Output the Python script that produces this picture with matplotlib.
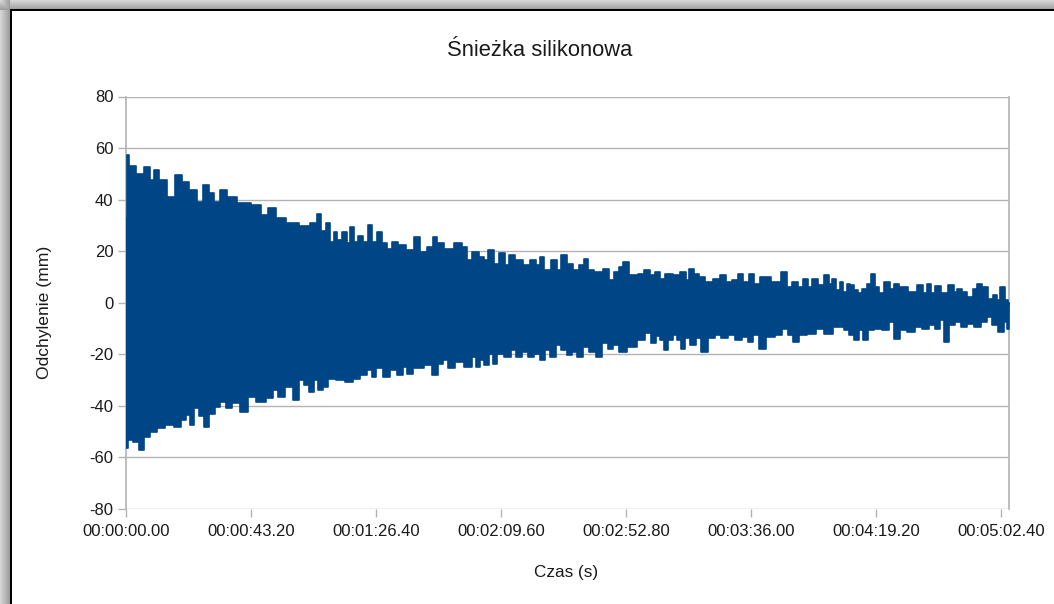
import numpy as np
import matplotlib
matplotlib.use("Agg")
import matplotlib.pyplot as plt
from matplotlib.patches import Rectangle
from matplotlib.ticker import FuncFormatter

plt.rcParams['font.family'] = ['Liberation Sans', 'DejaVu Sans']
plt.rcParams['axes.unicode_minus'] = False

# peak envelope of the swing, (time in s, deflection in mm)
upper_env = [
    (0.0, 32.7), (0.4, 57.5), (2.0, 53.0), (4.8, 50.0), (7.6, 52.6), (9.2, 47.5),
    (10.0, 51.3), (12.7, 47.7), (15.4, 41.0), (18.3, 49.4), (20.4, 46.8), (23.1, 43.6),
    (25.9, 39.0), (27.6, 45.5), (29.6, 42.4), (31.4, 39.0), (33.9, 43.6), (36.2, 41.0),
    (40.8, 38.5), (45.3, 38.0), (47.7, 34.0), (50.4, 36.6), (53.2, 33.0), (57.3, 30.8),
    (62.1, 29.6), (65.3, 30.9), (66.5, 34.6), (68.2, 28.0), (69.9, 31.0), (71.3, 23.6),
    (72.2, 27.4), (73.9, 24.2), (75.7, 27.4), (76.8, 23.0), (78.0, 29.4), (79.7, 23.6),
    (80.9, 26.0), (82.6, 23.6), (84.3, 30.3), (86.0, 23.6), (87.3, 27.4), (89.3, 23.0),
    (91.2, 21.0), (92.4, 23.6), (95.3, 22.3), (98.4, 20.3), (100.7, 25.5), (102.7, 19.7),
    (105.0, 21.6), (106.9, 25.5), (108.0, 23.0), (111.7, 21.0), (114.8, 23.0), (117.1, 21.6),
    (118.4, 16.5), (120.9, 19.7), (122.9, 17.7), (124.4, 16.5), (126.1, 20.3), (128.1, 15.2),
    (130.0, 19.4), (131.8, 14.5), (133.0, 18.4), (135.6, 16.5), (138.7, 14.5), (140.5, 16.5),
    (142.5, 14.5), (143.7, 17.7), (145.4, 12.6), (148.4, 16.5), (149.7, 12.6), (151.1, 18.4),
    (153.4, 15.2), (155.7, 12.6), (157.5, 14.5), (159.0, 17.1), (160.3, 12.6), (163.2, 11.9),
    (166.1, 13.2), (167.8, 8.7), (169.5, 11.9), (170.9, 13.8), (172.4, 15.8), (175.3, 10.6),
    (178.2, 11.3), (179.9, 12.6), (182.0, 10.6), (183.8, 11.9), (185.1, 9.4), (187.4, 11.3),
    (190.3, 10.6), (192.6, 11.9), (194.1, 8.7), (195.3, 13.2), (197.0, 11.3), (198.8, 10.0),
    (201.6, 8.1), (204.2, 9.4), (206.4, 10.6), (208.5, 8.1), (210.4, 8.7), (212.4, 11.3),
    (214.2, 8.1), (216.0, 11.3), (217.7, 7.4), (220.7, 10.0), (224.8, 8.1), (227.5, 11.9),
    (229.2, 6.1), (231.2, 8.1), (232.9, 6.1), (234.6, 9.4), (236.4, 6.1), (238.0, 9.4),
    (240.0, 6.8), (242.1, 10.6), (243.5, 7.4), (244.4, 9.4), (246.0, 4.8), (247.3, 8.1),
    (248.4, 4.2), (249.6, 7.4), (250.8, 6.8), (252.0, 4.8), (253.6, 3.6), (255.2, 5.5),
    (256.7, 7.4), (258.2, 11.3), (259.4, 6.1), (261.0, 3.6), (263.1, 8.1), (264.7, 5.5),
    (266.0, 7.4), (268.4, 6.1), (271.8, 4.2), (274.8, 6.8), (276.2, 3.6), (277.6, 7.4),
    (279.0, 3.6), (280.3, 6.4), (282.7, 3.6), (285.3, 6.8), (286.6, 4.2), (288.0, 5.5),
    (289.9, 4.2), (291.6, 2.2), (293.4, 5.5), (294.9, 7.4), (296.7, 6.1), (298.8, 1.6),
    (300.4, 2.9), (301.5, 1.0), (302.8, 6.1), (304.5, 0.9), (305.2, -1.0),
]

lower_env = [
    (0.0, -56.4), (1.6, -53.3), (3.5, -54.0), (5.2, -57.0), (7.1, -52.0), (9.7, -50.0),
    (12.0, -48.7), (15.2, -47.5), (18.1, -48.0), (19.8, -45.5), (21.5, -43.6), (22.7, -47.5),
    (24.4, -41.0), (26.2, -44.0), (27.6, -48.0), (29.6, -43.0), (31.9, -40.4), (33.4, -38.4),
    (35.4, -41.0), (38.0, -39.0), (41.0, -42.3), (43.1, -36.5), (46.9, -38.4), (50.0, -37.0),
    (51.5, -33.9), (53.4, -36.5), (56.4, -32.6), (59.0, -37.8), (60.7, -30.0), (62.4, -32.0),
    (64.0, -34.5), (65.7, -30.0), (67.0, -33.9), (68.8, -32.6), (71.1, -29.4), (73.9, -30.0),
    (77.4, -30.6), (79.5, -29.4), (82.0, -28.0), (84.3, -26.0), (85.5, -28.7), (87.5, -25.5),
    (90.1, -28.7), (92.4, -26.0), (94.7, -28.0), (96.4, -24.9), (97.6, -27.5), (101.0, -25.5),
    (104.8, -24.2), (106.8, -28.0), (108.5, -23.6), (110.3, -22.3), (112.2, -25.5), (115.2, -22.9),
    (118.3, -24.9), (120.5, -21.0), (121.7, -24.9), (123.0, -22.3), (124.6, -24.2), (126.2, -19.7),
    (127.4, -23.6), (129.2, -19.7), (131.8, -21.0), (134.0, -18.4), (135.7, -21.0), (137.7, -19.0),
    (139.8, -21.0), (142.1, -19.7), (143.7, -22.3), (145.6, -18.4), (147.6, -21.0), (149.4, -16.5),
    (151.3, -18.4), (153.2, -20.3), (155.1, -19.0), (156.9, -21.0), (158.6, -17.0), (161.3, -19.0),
    (163.5, -21.0), (165.5, -15.8), (167.5, -17.8), (169.3, -16.5), (171.6, -19.0), (174.7, -17.1),
    (178.2, -14.5), (180.4, -11.9), (182.4, -15.8), (183.9, -12.9), (185.1, -14.5), (186.5, -18.4),
    (188.2, -14.5), (189.8, -12.6), (191.2, -14.5), (192.1, -17.8), (193.9, -13.8), (196.1, -16.5),
    (197.9, -13.8), (199.5, -19.0), (202.4, -13.8), (204.7, -12.6), (206.6, -13.8), (209.3, -12.6),
    (211.7, -14.5), (214.0, -13.2), (215.6, -15.2), (217.9, -12.6), (219.8, -17.8), (222.5, -13.2),
    (225.8, -12.6), (227.7, -10.0), (229.7, -12.6), (231.2, -15.2), (233.6, -12.6), (237.3, -12.0),
    (239.8, -10.0), (242.7, -12.0), (245.8, -9.4), (247.3, -9.4), (249.0, -10.6), (250.9, -12.6),
    (252.4, -14.5), (254.0, -10.6), (255.5, -14.5), (257.0, -10.6), (259.6, -10.0), (262.8, -10.6),
    (264.5, -7.4), (266.1, -13.9), (268.5, -10.6), (271.4, -11.3), (274.0, -9.4), (276.4, -10.0),
    (278.4, -8.7), (280.6, -10.0), (282.1, -6.8), (283.3, -15.2), (285.3, -8.7), (287.5, -7.4),
    (289.4, -9.4), (291.8, -8.1), (294.2, -9.4), (296.5, -7.4), (298.3, -5.5), (300.4, -8.7),
    (302.5, -11.3), (303.9, -7.4), (305.2, -10.0),
]

x_ticks = [0.0, 43.2, 86.4, 129.6, 172.8, 216.0, 259.2, 302.4]
y_ticks = [-80, -60, -40, -20, 0, 20, 40, 60, 80]

title = "Śnieżka silikonowa"
x_label = "Czas (s)"
y_label = "Odchylenie (mm)"

BLUE = "#004586"
GRID = "#b3b3b3"
TEXT = "#1a1a1a"
W, H = 1054, 604


def hms(sec, pos=None):
    h = int(sec // 3600)
    m = int(sec % 3600 // 60)
    s = sec - 3600 * h - 60 * m
    return "{:02d}:{:02d}:{:05.2f}".format(h, m, s)


fig = plt.figure(figsize=(W / 100, H / 100), dpi=100)

# window frame with a soft shadow along the top and left
bg = fig.add_axes([0, 0, 1, 1], zorder=-10)
bg.set_xlim(0, W)
bg.set_ylim(H, 0)
bg.axis('off')
for i in range(10):
    g = 0.84 - 0.025 * i
    bg.add_patch(Rectangle((0, i), W, 1, color=str(g), lw=0))
    bg.add_patch(Rectangle((i, 0), 1, H, color=str(g), lw=0))
bg.add_patch(Rectangle((10, 9), W, H, color='white', lw=0))
bg.add_patch(Rectangle((10, 9), W, 2, color='black', lw=0))
bg.add_patch(Rectangle((10, 9), 2, H, color='black', lw=0))

ax = fig.add_axes([126 / W, 1 - 509 / H, (1009.3 - 126) / W, (509 - 96.5) / H], zorder=1)
ax.set_facecolor('white')

ut, uv = zip(*upper_env)
lt, lv = zip(*lower_env)
ax.fill_between(ut, 0, uv, step='mid', color=BLUE, lw=1.2, edgecolor=BLUE, zorder=3)
ax.fill_between(lt, lv, 0, step='mid', color=BLUE, lw=1.2, edgecolor=BLUE, zorder=3)

ax.set_xlim(0, 305.2)
ax.set_ylim(-80, 80)
ax.set_xticks(x_ticks)
ax.set_yticks(y_ticks)
ax.xaxis.set_major_formatter(FuncFormatter(hms))
ax.yaxis.grid(True, color=GRID, lw=1.0, zorder=0)
ax.set_axisbelow(True)
for side in ['left', 'right']:
    ax.spines[side].set_color(GRID)
    ax.spines[side].set_linewidth(1.2)
for side in ['top', 'bottom']:
    ax.spines[side].set_visible(False)
ax.tick_params(axis='both', direction='out', length=5.5, width=1.0, color=GRID,
               labelsize=12, labelcolor=TEXT)
ax.tick_params(axis='y', pad=3.5)
ax.tick_params(axis='x', pad=5)

fig.text(540 / W, 1 - 50 / H, title, ha='center', va='center', fontsize=15.8, color=TEXT)
fig.text(566 / W, 1 - 572 / H, x_label, ha='center', va='center', fontsize=12.3, color=TEXT)
fig.text(45 / W, 1 - 312 / H, y_label, ha='center', va='center', rotation=90,
         fontsize=12.6, color=TEXT)

fig.savefig("out.png", dpi=100)
